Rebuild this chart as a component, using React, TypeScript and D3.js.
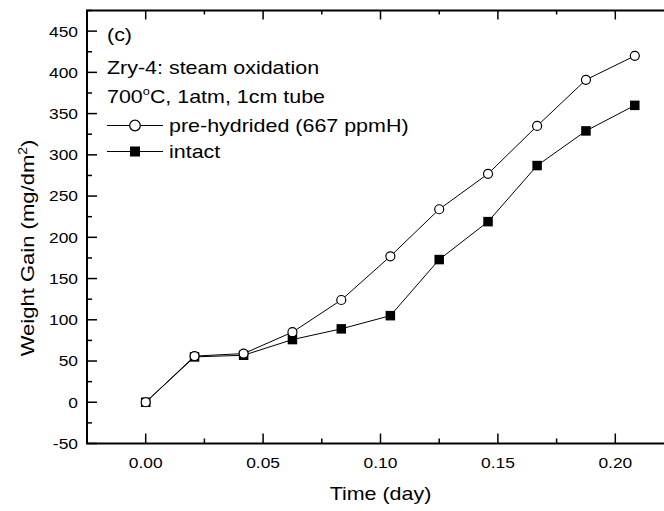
import React from "react";
import * as d3 from "d3";

const times = [0, 0.0208, 0.0417, 0.0625, 0.0833, 0.1042, 0.125, 0.1458, 0.1667, 0.1875, 0.2083];
const preHydrided = [0, 56, 59, 85, 124, 177, 234, 277, 335, 391, 420];
const intact = [0, 55, 57, 76, 89, 105, 173, 219, 287, 329, 360];
const xTickLabels = [0, 0.05, 0.1, 0.15, 0.2];
const yTickLabels = [-50, 0, 50, 100, 150, 200, 250, 300, 350, 400, 450];

const W = 664;
const H = 511;
const SX = 1.16;
const FONT = "'Liberation Sans', Arial, sans-serif";

const x = d3.scaleLinear().domain([-0.025, 0.225]).range([87, 674]);
const y = d3.scaleLinear().domain([-50, 475]).range([443.5, 10.5]);

const xMinor = d3.range(-0.025, 0.2251, 0.025);
const yMinor = d3.range(-50, 475.1, 25);

function T({ x0, y0, anchor = "start", size, rot = 0, children }: any) {
  return (
    <text
      transform={`translate(${x0},${y0}) rotate(${rot}) scale(${SX},1)`}
      textAnchor={anchor}
      fontSize={size}
      fontFamily={FONT}
      fill="#000"
    >
      {children}
    </text>
  );
}

export default function App() {
  const left = x.range()[0];
  const right = x.range()[1];
  const top = y.range()[1];
  const bottom = y.range()[0];
  const lineGen = d3
    .line<number>()
    .x((_, i) => x(times[i]))
    .y((d) => y(d));
  const isMajorX = (v: number) => Math.abs(Math.round(v / 0.05) * 0.05 - v) < 1e-6;
  const isMajorY = (v: number) => v % 50 === 0;

  return (
    <svg
      width={W}
      height={H}
      style={{ position: "absolute", left: 0, top: 0, background: "#fff" }}
    >
      <rect x={0} y={0} width={W} height={H} fill="#fff" />
      {/* ticks */}
      {xMinor.map((v, i) => {
        const len = isMajorX(v) ? 10 : 5;
        return (
          <g key={"xt" + i} stroke="#000" strokeWidth={1.5}>
            <line x1={x(v)} x2={x(v)} y1={bottom} y2={bottom - len} />
            <line x1={x(v)} x2={x(v)} y1={top} y2={top + len - 1} />
          </g>
        );
      })}
      {yMinor.map((v, i) => {
        const len = isMajorY(v) ? 10 : 5;
        return (
          <g key={"yt" + i} stroke="#000" strokeWidth={1.5}>
            <line x1={left} x2={left + len} y1={y(v)} y2={y(v)} />
            <line x1={right} x2={right - len} y1={y(v)} y2={y(v)} />
          </g>
        );
      })}
      {/* frame */}
      <rect
        x={left}
        y={top}
        width={right - left}
        height={bottom - top}
        fill="none"
        stroke="#000"
        strokeWidth={2}
      />
      {/* tick labels */}
      {xTickLabels.map((v) => (
        <T key={"xl" + v} x0={x(v)} y0={467.5} anchor="middle" size={15}>
          {d3.format(".2f")(v)}
        </T>
      ))}
      {yTickLabels.map((v) => (
        <T key={"yl" + v} x0={78} y0={y(v) + 5.4} anchor="end" size={15}>
          {String(v)}
        </T>
      ))}
      {/* axis titles */}
      <T x0={380.5} y0={500} anchor="middle" size={18.5}>
        Time (day)
      </T>
      <T x0={34} y0={248} anchor="middle" size={19} rot={-90}>
        Weight Gain (mg/dm
        <tspan fontSize={12} dy={-7}>
          2
        </tspan>
        <tspan dy={7}>)</tspan>
      </T>
      {/* series */}
      <path d={lineGen(intact) || ""} fill="none" stroke="#000" strokeWidth={1} />
      <path d={lineGen(preHydrided) || ""} fill="none" stroke="#000" strokeWidth={1} />
      {intact.map((v, i) => (
        <rect
          key={"s" + i}
          x={x(times[i]) - 4.75}
          y={y(v) - 4.75}
          width={9.5}
          height={9.5}
          fill="#000"
        />
      ))}
      {preHydrided.map((v, i) => (
        <circle
          key={"c" + i}
          cx={x(times[i])}
          cy={y(v)}
          r={4.5}
          fill="#fff"
          stroke="#000"
          strokeWidth={1.2}
        />
      ))}
      {/* annotations and legend */}
      <T x0={107} y0={41} size={18.5}>
        (c)
      </T>
      <T x0={107} y0={73.5} size={18.5}>
        Zry-4: steam oxidation
      </T>
      <T x0={107} y0={102.5} size={18.5}>
        700
        <tspan fontSize={11} dy={-8}>
          o
        </tspan>
        <tspan dy={8}>C, 1atm, 1cm tube</tspan>
      </T>
      <line x1={107} x2={163} y1={125.5} y2={125.5} stroke="#000" strokeWidth={1} />
      <circle cx={135} cy={125.5} r={5.3} fill="#fff" stroke="#000" strokeWidth={1.2} />
      <T x0={169} y0={131.5} size={18.5}>
        pre-hydrided (667 ppmH)
      </T>
      <line x1={107} x2={163} y1={151.5} y2={151.5} stroke="#000" strokeWidth={1} />
      <rect x={130} y={146.5} width={10} height={10} fill="#000" />
      <T x0={169} y0={157.5} size={18.5}>
        intact
      </T>
    </svg>
  );
}
